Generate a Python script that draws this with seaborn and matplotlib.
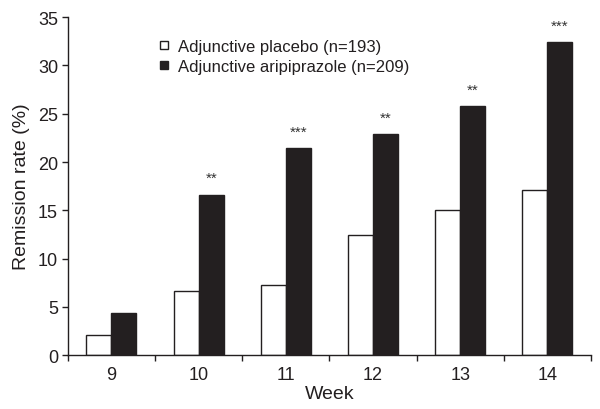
import pandas as pd
import matplotlib
matplotlib.use("Agg")
import matplotlib.pyplot as plt
import seaborn as sns
from matplotlib.lines import Line2D

# Datos
weeks = ["9", "10", "11", "12", "13", "14"]
placebo = [2.1, 6.7, 7.3, 12.4, 15.0, 17.1]
aripiprazole = [4.4, 16.6, 21.4, 22.9, 25.8, 32.4]
stars = ["", "**", "***", "**", "**", "***"]
lab_placebo = "Adjunctive placebo (n=193)"
lab_arip = "Adjunctive aripiprazole (n=209)"

df = pd.DataFrame({
    "week": weeks * 2,
    "rate": placebo + aripiprazole,
    "group": [lab_placebo] * len(weeks) + [lab_arip] * len(weeks),
})

sns.set_theme(style="white")
plt.rcParams['font.family'] = ['Liberation Sans', 'DejaVu Sans']

fig = plt.figure(figsize=(6.0, 4.1), dpi=100)
ax = fig.add_axes([0.113, 0.131, 0.872, 0.825])

dark = "#231f20"
sns.barplot(data=df, x="week", y="rate", hue="group", order=weeks,
            hue_order=[lab_placebo, lab_arip],
            palette={lab_placebo: "white", lab_arip: dark},
            width=0.575, edgecolor=dark, linewidth=1.0,
            saturation=1, legend=False, ax=ax)

# asteriscos sobre las barras de aripiprazol
for i, (v, s) in enumerate(zip(aripiprazole, stars)):
    if s:
        ax.text(i + 0.144, v + 1.0, s, ha="center", va="bottom",
                fontsize=11, color="#333333")

ax.set_xlim(-0.5, len(weeks) - 0.5)
ax.set_ylim(0, 35)
ax.set_yticks(range(0, 36, 5))
ax.set_xticks(range(len(weeks)))
ax.set_xticklabels(weeks)
ax.set_xticks([i - 0.5 for i in range(len(weeks) + 1)], minor=True)
ax.tick_params(axis="x", which="major", bottom=False, length=0,
               labelsize=13, pad=8)
ax.tick_params(axis="x", which="minor", bottom=True, length=4, width=1,
               direction="out", color=dark)
ax.tick_params(axis="y", left=True, length=4, width=1, direction="out",
               color=dark, labelsize=13, pad=3)
ax.tick_params(colors=dark, which="both")

for sp in ["top", "right"]:
    ax.spines[sp].set_visible(False)
for sp in ["left", "bottom"]:
    ax.spines[sp].set_color(dark)
    ax.spines[sp].set_linewidth(1.0)

ax.set_xlabel("Week", fontsize=14, color=dark, labelpad=1)
ax.set_ylabel("Remission rate (%)", fontsize=14, color=dark, labelpad=6)

handles = [
    Line2D([], [], marker="s", linestyle="none", markersize=6,
           markerfacecolor="white", markeredgecolor=dark, markeredgewidth=1),
    Line2D([], [], marker="s", linestyle="none", markersize=6,
           markerfacecolor=dark, markeredgecolor=dark),
]
ax.legend(handles, [lab_placebo, lab_arip], loc="upper left",
          bbox_to_anchor=(0.14, 0.98), frameon=False, fontsize=12,
          handletextpad=0.3, handlelength=1.0, labelspacing=0.3,
          labelcolor=dark)

fig.savefig("out.png", dpi=100)
